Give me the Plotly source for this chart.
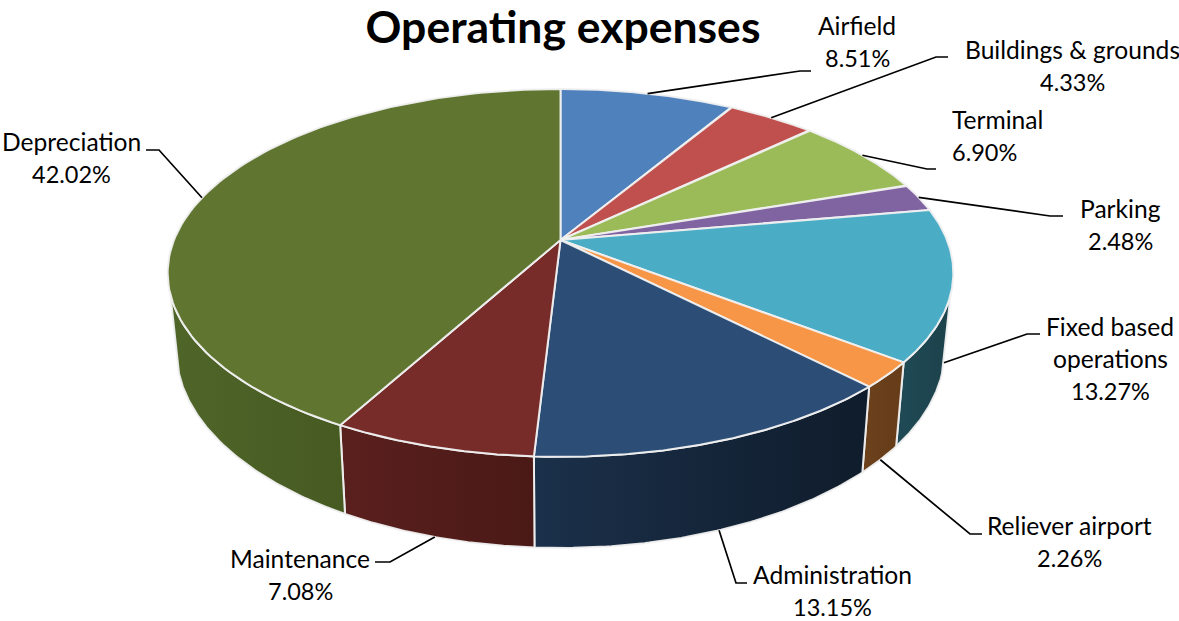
import numpy as np
import plotly.graph_objects as go

# Share of operating expenses, clockwise from twelve o'clock
categories = ["Airfield", "Buildings & grounds", "Terminal", "Parking",
              "Fixed based operations", "Reliever airport", "Administration",
              "Maintenance", "Depreciation"]
values = [8.51, 4.33, 6.90, 2.48, 13.27, 2.26, 13.15, 7.08, 42.02]

top_colors = ["#4f81bd", "#c0504d", "#9bbb59", "#8064a2", "#4bacc6",
              "#f79646", "#2c4d75", "#772c2a", "#5f7530"]
wall_colors = [None, None, None, None,
               ("#1f4a55", "#1d424c"), ("#6c411c", "#663c19"),
               ("#1b304a", "#0f1c2b"), ("#5a201e", "#4a1916"),
               ("#4f6528", "#465a22")]

# Projection of the tilted disc: centre, scale, perspective strength, wall height
CX, CY = 560.5, 240.0
BX, BY = 386.5, 178.0
PERSP = 0.179
WALL = 74.8
BASE_SHRINK = 0.978
WALL_FROM, WALL_TO = 107.0, 253.0  # visible part of the wall, degrees


def rim(theta_deg, lower=False):
    t = np.radians(np.asarray(theta_deg, dtype=float))
    sx, sy = np.sin(t), -np.cos(t)
    d = 1 - PERSP * sy
    x = CX + BX * sx / d
    y = CY + BY * sy / d
    if lower:
        x = CX + BASE_SHRINK * (x - CX)
        y = y + WALL / d
    return x, y


# Where each leader line leaves the pie, and its elbow and end points
uses_base = [False, False, False, False, True, True, True, True, False]
leader_tails = [[(800, 71), (811, 71)], [(936, 57), (948, 57)],
                [(927, 169), (936, 169)], [(1050, 216), (1063, 216)],
                [(1027, 334), (1040, 334)], [(970, 534), (982, 534)],
                [(736, 583), (747, 583)], [(390, 562), (375, 562)],
                [(159, 150), (146, 150)]]

# Label placement: text lines with their vertical centres
label_lines = [["Airfield"], ["Buildings & grounds"], ["Terminal"], ["Parking"],
               ["Fixed based", "operations"], ["Reliever airport"],
               ["Administration"], ["Maintenance"], ["Depreciation"]]
label_x = [857, 1072, 950, 1120, 1110, 1069, 832, 300, 71]
label_y = [25, 49, 119, 208, 326, 525, 574, 558, 141]
label_anchor = ["center", "center", "left", "center", "center",
                "center", "center", "center", "center"]
LINE_GAP = 32.5
FONT = "Lato, 'Open Sans', sans-serif"
EDGE = "rgba(240,240,240,0.95)"

edges = np.concatenate([[0.0], np.cumsum(values)]) * 3.6
fig = go.Figure()

# Walls first, so the top face covers their upper edge
for i, colors in enumerate(wall_colors):
    a0 = max(edges[i], WALL_FROM)
    a1 = min(edges[i + 1], WALL_TO)
    if colors is None or a1 <= a0:
        continue
    th = np.linspace(a0, a1, 80)
    xt, yt = rim(th)
    xb, yb = rim(th, lower=True)
    fig.add_trace(go.Scatter(
        x=np.concatenate([xt, xb[::-1], xt[:1]]),
        y=np.concatenate([yt, yb[::-1], yt[:1]]),
        mode="lines", fill="toself",
        line=dict(color=EDGE, width=2),
        fillgradient=dict(type="horizontal",
                          colorscale=[[0, colors[0]], [1, colors[1]]]),
        hoverinfo="skip", showlegend=False))

# Top face slices
for i, cat in enumerate(categories):
    th = np.linspace(edges[i], edges[i + 1], 120)
    xt, yt = rim(th)
    fig.add_trace(go.Scatter(
        x=np.concatenate([[CX], xt, [CX]]),
        y=np.concatenate([[CY], yt, [CY]]),
        mode="lines", fill="toself", fillcolor=top_colors[i],
        line=dict(color=EDGE, width=2),
        name=cat, hoverinfo="skip", showlegend=False))

annotations = []
for i, v in enumerate(values):
    mid = (edges[i] + edges[i + 1]) / 2
    x0, y0 = rim(mid, lower=uses_base[i])
    tail = leader_tails[i]
    fig.add_trace(go.Scatter(
        x=[float(x0)] + [p[0] for p in tail],
        y=[float(y0)] + [p[1] for p in tail],
        mode="lines", line=dict(color="#000000", width=1.7),
        hoverinfo="skip", showlegend=False))

    for j, text in enumerate(label_lines[i]):
        annotations.append(dict(
            x=label_x[i], y=label_y[i] + j * LINE_GAP, text=text,
            xref="x", yref="y", showarrow=False,
            xanchor=label_anchor[i], yanchor="middle",
            font=dict(family=FONT, size=24.6, color="#000000")))
    annotations.append(dict(
        x=label_x[i], y=label_y[i] + len(label_lines[i]) * LINE_GAP,
        text=f"{v:.2f}%", xref="x", yref="y", showarrow=False,
        xanchor=label_anchor[i], yanchor="middle",
        font=dict(family=FONT, size=23.5, color="#000000")))

fig.update_layout(
    width=1179, height=621,
    margin=dict(l=0, r=0, t=0, b=0),
    paper_bgcolor="#ffffff", plot_bgcolor="#ffffff",
    title=dict(text="<b>Operating expenses</b>", x=563 / 1179, xanchor="center",
               y=1 - 27 / 621, yanchor="middle", yref="container",
               font=dict(family=FONT, size=44.5, color="#000000")),
    xaxis=dict(range=[0, 1179], visible=False, fixedrange=True),
    yaxis=dict(range=[621, 0], visible=False, fixedrange=True),
    annotations=annotations, showlegend=False)

fig.write_html("out.html", config=dict(displayModeBar=False))
